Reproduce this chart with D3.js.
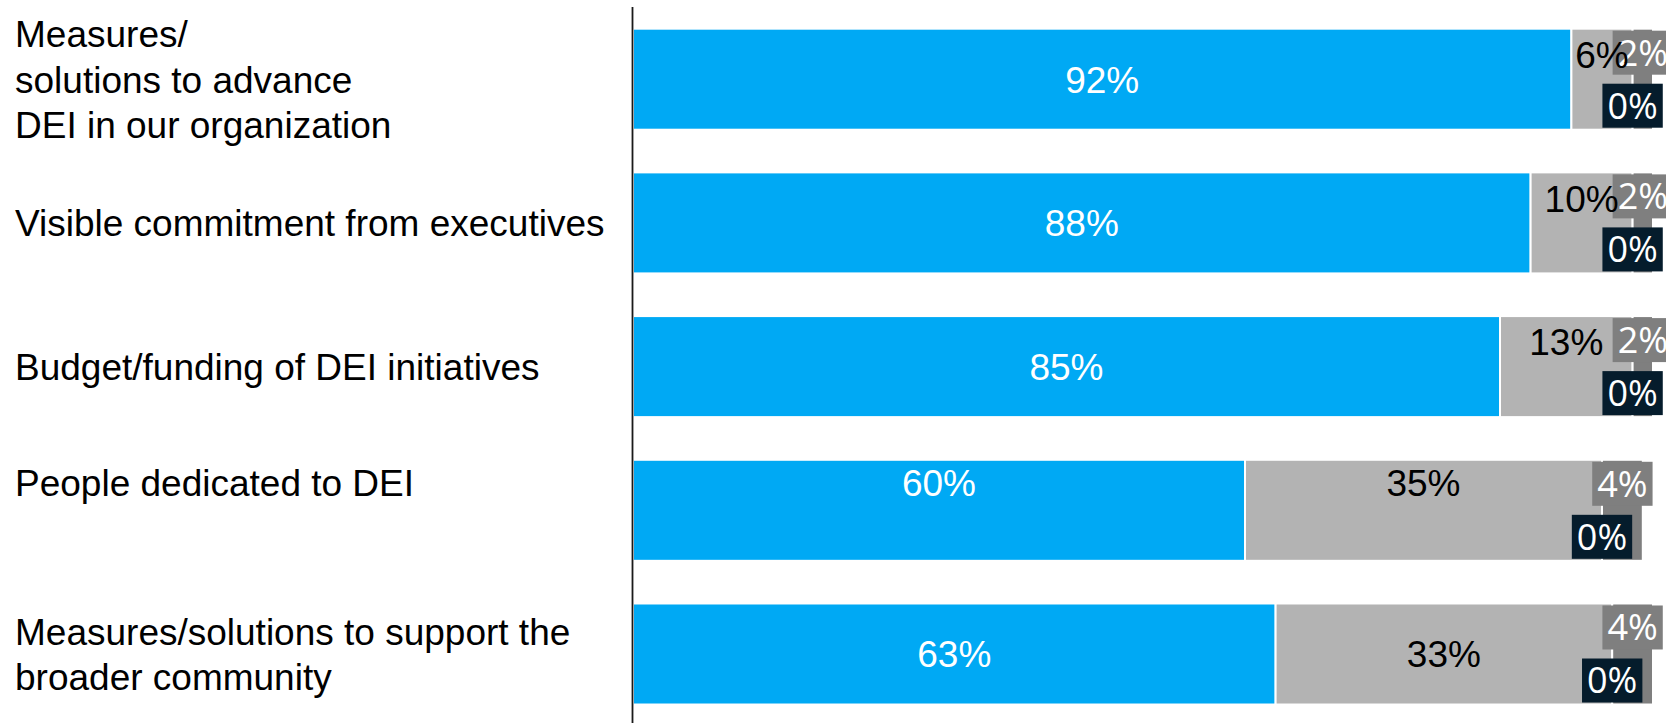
<!DOCTYPE html>
<html>
<head>
<meta charset="utf-8">
<script src="https://cdn.jsdelivr.net/npm/d3@7/dist/d3.min.js"></script>
<style>
  html, body { margin: 0; padding: 0; background: #fff; }
  svg { display: block; }
</style>
</head>
<body>
<script>
// Category rows (each entry holds the label's lines, top to bottom)
const categories = [
  ["Measures/", "solutions to advance", "DEI in our organization"],
  ["Visible commitment from executives"],
  ["Budget/funding of DEI initiatives"],
  ["People dedicated to DEI"],
  ["Measures/solutions to support the", "broader community"]
];

// Response shares in percent, in stacking order
const shareBlue     = [92, 88, 85, 60, 63];
const shareLight    = [6, 10, 13, 35, 33];
const shareNavy     = [0, 0, 0, 0, 0];
const shareDarkGrey = [2, 2, 2, 4, 4];

const seriesKeys = ["blue", "light", "navy", "dark"];
const seriesColors = { blue: "#00a9f4", light: "#b3b3b3", navy: "#051c2c", dark: "#7f7f7f" };

// Vertical placement of a row's text: centred, or lifted toward the bar top
const rowTextPlacement = ["center", "center", "center", "upper", "center"];

const rows = categories.map((c, i) => ({
  idx: i,
  blue: shareBlue[i],
  light: shareLight[i],
  navy: shareNavy[i],
  dark: shareDarkGrey[i]
}));

const W = 1666, H = 723;
const svg = d3.select("body").append("svg").attr("width", W).attr("height", H);

const x = d3.scaleLinear().domain([0, 100]).range([633, 1653]);
const y = d3.scaleBand()
  .domain(d3.range(categories.length))
  .range([7.35, 725.85])
  .paddingInner(0.297)
  .paddingOuter(0.1485);

const rowTextY = i => rowTextPlacement[i] === "upper"
  ? y(i) + 23
  : y(i) + y.bandwidth() / 2;

const stacked = d3.stack().keys(seriesKeys)(rows);

// Stacked segments
const layers = svg.append("g").selectAll("g")
  .data(stacked)
  .join("g")
  .attr("fill", d => seriesColors[d.key]);

layers.selectAll("rect")
  .data(d => d.map(v => ({ key: d.key, v })))
  .join("rect")
  .attr("x", d => x(d.v[0]))
  .attr("y", d => y(d.v.data.idx))
  .attr("width", d => Math.max(0, x(d.v[1]) - x(d.v[0])))
  .attr("height", y.bandwidth())
  .attr("stroke", "#fff")
  .attr("stroke-width", 2);

// Vertical axis line
svg.append("line")
  .attr("x1", 632.5).attr("x2", 632.5)
  .attr("y1", 7).attr("y2", H)
  .attr("stroke", "#1a1a1a")
  .attr("stroke-width", 1.8);

// Category labels
const catFont = "Liberation Sans, Arial, sans-serif";
const lineH = 45.5;
categories.forEach((lines, i) => {
  const cy = rowTextY(i);
  const t = svg.append("text")
    .attr("font-family", catFont)
    .attr("font-size", 37)
    .attr("fill", "#000");
  lines.forEach((ln, k) => {
    t.append("tspan")
      .attr("x", 15)
      .attr("y", cy + (k - (lines.length - 1) / 2) * lineH)
      .attr("dy", "0.36em")
      .text(ln);
  });
});

const pct = v => v + "%";

// Boxed labels for the small tail segments
const boxes = svg.append("g");
const boxFont = "Open Sans, Noto Sans, sans-serif";
const boxH = 44;
stacked.filter(s => s.key === "navy" || s.key === "dark").forEach(s => {
  s.forEach(v => {
    const cx = (x(v[0]) + x(v[1])) / 2;
    const top = y(v.data.idx);
    const bottom = top + y.bandwidth();
    const by = s.key === "dark" ? top + 2 : bottom - 2 - boxH;
    const g = boxes.append("g");
    const rect = g.append("rect").attr("fill", seriesColors[s.key]);
    const t = g.append("text")
      .attr("x", cx)
      .attr("y", by + boxH / 2)
      .attr("dy", "0.36em")
      .attr("text-anchor", "middle")
      .attr("font-family", boxFont)
      .attr("font-size", 36)
      .attr("fill", "#fff")
      .text(pct(v.data[s.key]));
    const tw = t.node().getComputedTextLength();
    const bw = tw + 10;
    rect.attr("x", cx - bw / 2).attr("y", by).attr("width", bw).attr("height", boxH);
  });
});

// Labels inside the blue and light grey segments
const labels = svg.append("g");
stacked.filter(s => s.key === "blue" || s.key === "light").forEach(s => {
  s.forEach(v => {
    const i = v.data.idx;
    const x0 = x(v[0]), x1 = x(v[1]);
    const narrow = (x1 - x0) < 150;
    const cy = (s.key === "light" && narrow) ? y(i) + 26 : rowTextY(i);
    labels.append("text")
      .attr("x", (x0 + x1) / 2)
      .attr("y", cy)
      .attr("dy", "0.36em")
      .attr("text-anchor", "middle")
      .attr("font-family", catFont)
      .attr("font-size", 37)
      .attr("fill", s.key === "blue" ? "#fff" : "#000")
      .text(pct(v.data[s.key]));
  });
});
</script>
</body>
</html>
